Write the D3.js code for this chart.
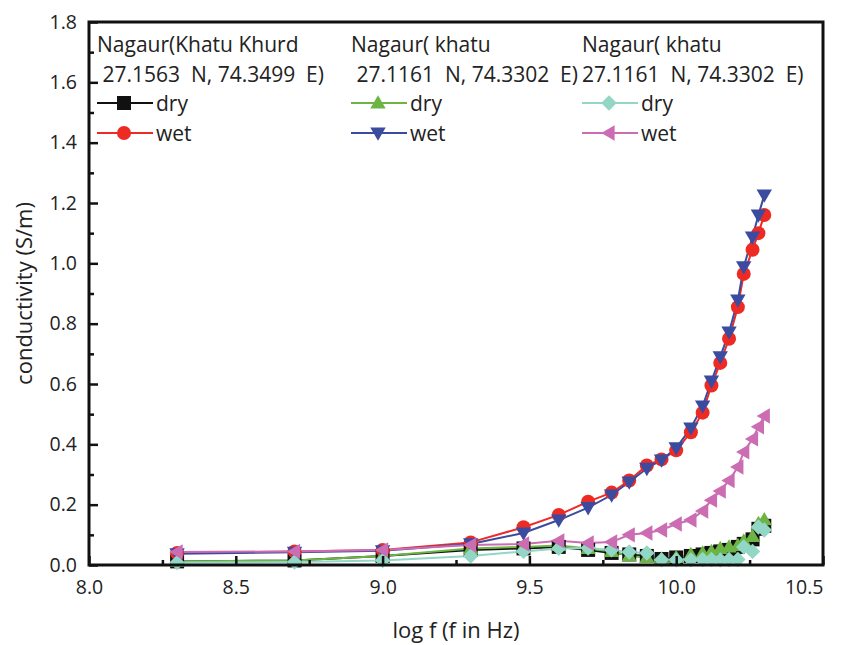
<!DOCTYPE html>
<html>
<head>
<meta charset="utf-8">
<script src="https://cdn.jsdelivr.net/npm/d3@7"></script>
<style>
  html, body { margin: 0; padding: 0; background: #fff; }
  svg { display: block; font-family: "Open Sans", "Noto Sans", sans-serif; }
</style>
</head>
<body>
<svg id="chart" width="846" height="645"></svg>
<script>
// log of frequency (Hz) at which conductivity was measured
const logF = [8.30, 8.70, 9.00, 9.30, 9.48, 9.60, 9.70, 9.78, 9.84, 9.90, 9.95,
              10.00, 10.05, 10.09, 10.12, 10.15, 10.18, 10.21, 10.23, 10.26, 10.28, 10.30];

// conductivity (S/m) per soil sample
const khurdDry = [0.012, 0.015, 0.030, 0.050, 0.055, 0.060, 0.050, 0.040, 0.035, 0.030, 0.020,
                  0.025, 0.030, 0.035, 0.040, 0.045, 0.050, 0.060, 0.070, 0.085, 0.120, 0.130];
const khurdWet = [0.040, 0.045, 0.050, 0.075, 0.125, 0.166, 0.210, 0.240, 0.280, 0.330, 0.350,
                  0.380, 0.440, 0.505, 0.595, 0.670, 0.750, 0.855, 0.965, 1.045, 1.100, 1.160];
const khatuDryA = [0.012, 0.015, 0.030, 0.055, 0.060, 0.065, 0.055, 0.045, 0.030, 0.025, 0.020,
                   0.025, 0.035, 0.040, 0.045, 0.055, 0.060, 0.065, 0.080, 0.095, 0.138, 0.150];
const khatuWetA = [0.037, 0.042, 0.047, 0.070, 0.106, 0.149, 0.190, 0.232, 0.275, 0.320, 0.348,
                   0.388, 0.454, 0.527, 0.610, 0.690, 0.772, 0.878, 0.988, 1.087, 1.160, 1.226];
const khatuDryB = [0.008, 0.010, 0.015, 0.030, 0.045, 0.055, 0.056, 0.050, 0.043, 0.040, 0.017,
                   0.017, 0.017, 0.018, 0.018, 0.017, 0.018, 0.018, 0.060, 0.045, 0.126, 0.116];
const khatuWetB = [0.043, 0.045, 0.050, 0.066, 0.070, 0.080, 0.073, 0.076, 0.100, 0.106, 0.116,
                   0.136, 0.149, 0.179, 0.215, 0.245, 0.280, 0.325, 0.375, 0.418, 0.458, 0.494];

const xTicks = [8.0, 8.5, 9.0, 9.5, 10.0, 10.5];
const yTicks = [0.0, 0.2, 0.4, 0.6, 0.8, 1.0, 1.2, 1.4, 1.6, 1.8];

const groupTitles = [
  ["Nagaur(Khatu Khurd", " 27.1563  N, 74.3499  E)"],
  ["Nagaur( khatu", " 27.1161  N, 74.3302  E)"],
  ["Nagaur( khatu", "27.1161  N, 74.3302  E)"]
];

const series = [
  { values: khurdDry,  label: "dry", group: 0, color: "#111111", line: "#111111", shape: "square" },
  { values: khurdWet,  label: "wet", group: 0, color: "#ee2a24", line: "#ee2a24", shape: "circle" },
  { values: khatuDryA, label: "dry", group: 1, color: "#6cb544", line: "#6cb544", shape: "up" },
  { values: khatuWetA, label: "wet", group: 1, color: "#3b4b9f", line: "#3b4b9f", shape: "down" },
  { values: khatuDryB, label: "dry", group: 2, color: "#92d6c6", line: "#92d6c6", shape: "diamond" },
  { values: khatuWetB, label: "wet", group: 2, color: "#cc6db4", line: "#cc6db4", shape: "left" }
];

const svg = d3.select("#chart");
const margin = { left: 89, right: 23, top: 22, bottom: 80 };
const W = 846, H = 645;

const x = d3.scaleLinear().domain([8.0, 10.5]).range([margin.left, W - margin.right]);
const y = d3.scaleLinear().domain([0, 1.8]).range([H - margin.bottom, margin.top]);

function markerPath(shape, s) {
  const h = s / 2;
  switch (shape) {
    case "square":  return `M${-h},${-h}H${h}V${h}H${-h}Z`;
    case "circle":  return d3.symbol(d3.symbolCircle, Math.PI * h * h)();
    case "up":      return `M0,${-h * 1.1}L${h * 1.1},${h * 0.8}L${-h * 1.1},${h * 0.8}Z`;
    case "down":    return `M0,${h * 1.1}L${h * 1.1},${-h * 0.8}L${-h * 1.1},${-h * 0.8}Z`;
    case "left":    return `M${-h * 1.1},0L${h * 0.8},${-h * 1.1}L${h * 0.8},${h * 1.1}Z`;
    case "diamond": return `M0,${-h * 1.1}L${h * 1.1},0L0,${h * 1.1}L${-h * 1.1},0Z`;
  }
}

// curves and markers
const line = d3.line().x((d, i) => x(logF[i])).y(d => y(d));
const plot = svg.append("g");
series.forEach(s => {
  plot.append("path")
    .datum(s.values)
    .attr("d", line)
    .attr("fill", "none")
    .attr("stroke", s.line)
    .attr("stroke-width", 2);
});
series.forEach(s => {
  plot.append("g").selectAll("path")
    .data(s.values)
    .join("path")
    .attr("transform", (d, i) => `translate(${x(logF[i])},${y(d)})`)
    .attr("d", markerPath(s.shape, 14))
    .attr("fill", s.color);
});

// axes: ticks point inward
const axisColor = "#111";
const xAxis = d3.axisBottom(x).tickValues(xTicks).tickFormat(d3.format(".1f"))
  .tickSizeInner(-9).tickSizeOuter(0).tickPadding(15);
const xMinor = d3.axisBottom(x).tickValues(d3.range(8.25, 10.5, 0.5)).tickFormat("")
  .tickSizeInner(-5).tickSizeOuter(0);
const yAxis = d3.axisLeft(y).tickValues(yTicks).tickFormat(d3.format(".1f"))
  .tickSizeInner(-9).tickSizeOuter(0).tickPadding(12);
const yMinor = d3.axisLeft(y).tickValues(d3.range(0.1, 1.8, 0.2)).tickFormat("")
  .tickSizeInner(-5).tickSizeOuter(0);

function styleAxis(g) {
  g.select(".domain").remove();
  g.selectAll(".tick line").attr("stroke", axisColor).attr("stroke-width", 2.5);
  g.selectAll(".tick text").attr("fill", "#222").attr("font-size", 19.5)
    .attr("font-family", "'Open Sans', sans-serif");
}

const gx = svg.append("g").attr("transform", `translate(0,${y(0)})`).call(xAxis).call(styleAxis);
// last x label sits flush with the right edge of the frame
gx.selectAll(".tick text").filter(d => d === 10.5).attr("text-anchor", "end");
svg.append("g").attr("transform", `translate(0,${y(0)})`).call(xMinor).call(styleAxis);
svg.append("g").attr("transform", `translate(${x(8.0)},0)`).call(yAxis).call(styleAxis);
svg.append("g").attr("transform", `translate(${x(8.0)},0)`).call(yMinor).call(styleAxis);

// frame
svg.append("rect")
  .attr("x", x(8.0)).attr("y", y(1.8))
  .attr("width", x(10.5) - x(8.0)).attr("height", y(0) - y(1.8))
  .attr("fill", "none").attr("stroke", axisColor).attr("stroke-width", 3);

// axis titles
svg.append("text")
  .attr("x", (x(8.0) + x(10.5)) / 2).attr("y", 638)
  .attr("text-anchor", "middle").attr("font-size", 22).attr("fill", "#222")
  .text("log f (f in Hz)");
svg.append("text")
  .attr("transform", `translate(32,${(y(0) + y(1.8)) / 2}) rotate(-90)`)
  .attr("text-anchor", "middle").attr("font-size", 22).attr("fill", "#222")
  .text("conductivity (S/m)");

// legend: three sample groups, each with a dry and a wet entry
const legendX = [97, 351, 582];
const legend = svg.append("g").attr("font-size", 21).attr("fill", "#222");
groupTitles.forEach((t, gi) => {
  legend.append("text").attr("x", legendX[gi]).attr("y", 52).text(t[0]).attr("xml:space", "preserve");
  legend.append("text").attr("x", legendX[gi]).attr("y", 82).text(t[1]).attr("xml:space", "preserve");
});
series.forEach(s => {
  const row = s.label === "dry" ? 0 : 1;
  const cy = 103 + row * 30;
  const x0 = legendX[s.group];
  const g = legend.append("g");
  g.append("line").attr("x1", x0).attr("x2", x0 + 56).attr("y1", cy).attr("y2", cy)
    .attr("stroke", s.line).attr("stroke-width", 2);
  g.append("path").attr("transform", `translate(${x0 + 27},${cy})`)
    .attr("d", markerPath(s.shape, 14)).attr("fill", s.color);
  g.append("text").attr("x", x0 + 59).attr("y", cy + 8).text(s.label);
});
</script>
</body>
</html>
